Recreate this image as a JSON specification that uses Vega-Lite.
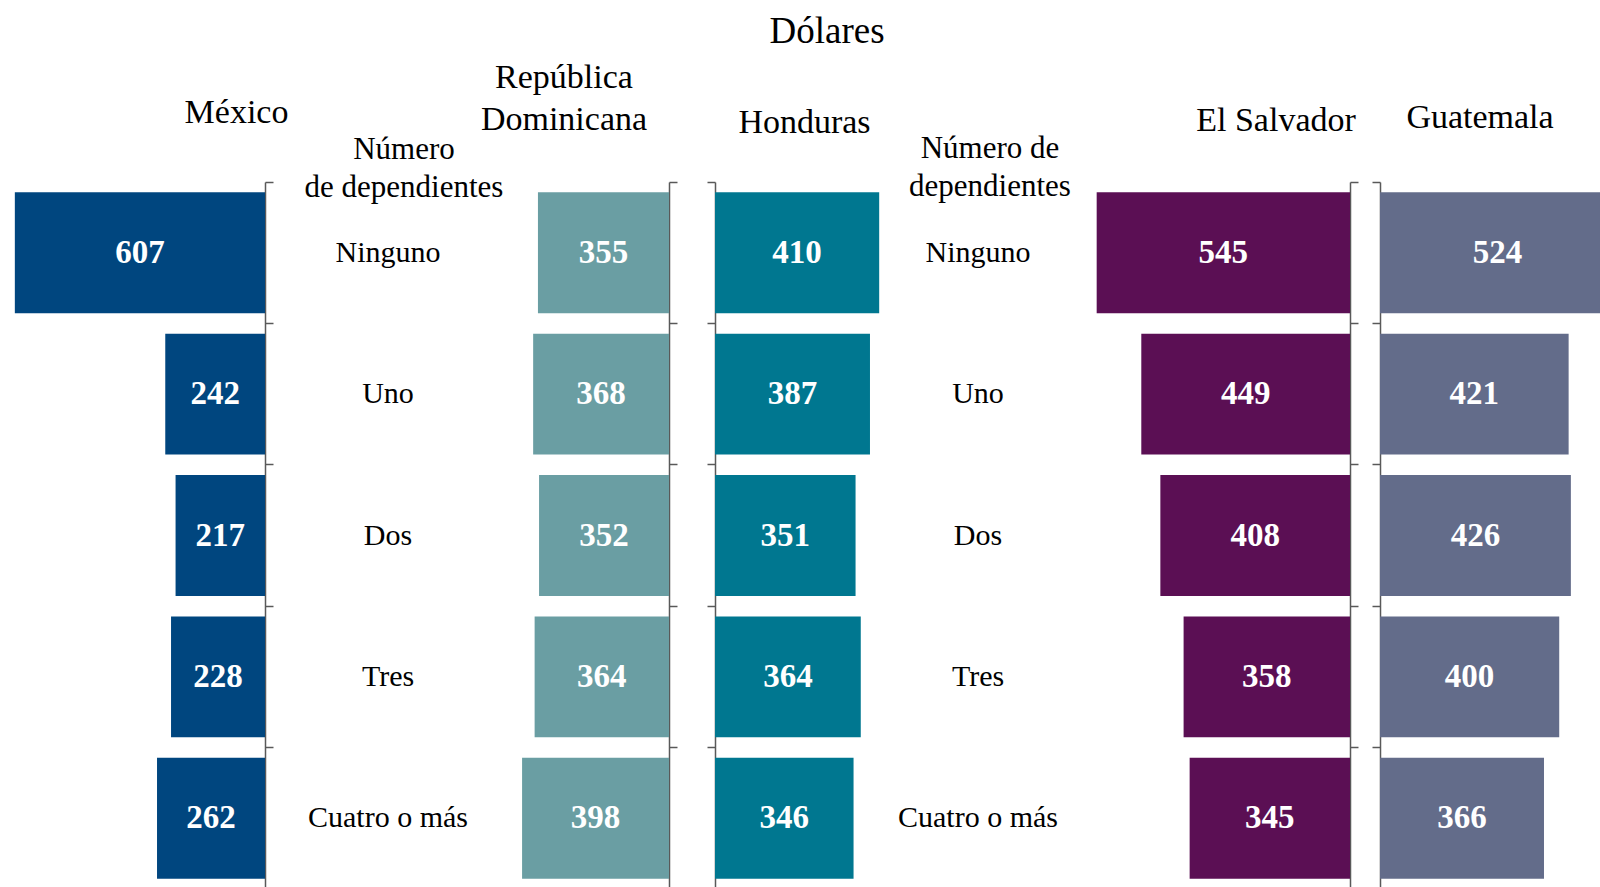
{
  "$schema": "https://vega.github.io/schema/vega-lite/v6.json",
  "background": "white",
  "padding": {"left": 0, "right": 0, "top": 13, "bottom": 0},
  "config": {
    "view": {"stroke": null},
    "font": "Liberation Serif",
    "title": {"font": "Liberation Serif", "fontWeight": "normal", "color": "black", "anchor": "middle", "frame": "group"},
    "axis": {"domainColor": "#595959", "tickColor": "#595959", "domainWidth": 1.5, "tickWidth": 1.5, "tickSize": 8, "labels": false, "title": null, "grid": false, "bandPosition": 0}
  },
  "title": {"text": "Dólares", "anchor": "middle", "frame": "bounds", "dx": 27, "fontSize": 37, "offset": 10},
  "datasets": {
    "d": [
      {"pais": "MX", "cat": "Ninguno", "v": 607},
      {"pais": "MX", "cat": "Uno", "v": 242},
      {"pais": "MX", "cat": "Dos", "v": 217},
      {"pais": "MX", "cat": "Tres", "v": 228},
      {"pais": "MX", "cat": "Cuatro o más", "v": 262},
      {"pais": "RD", "cat": "Ninguno", "v": 355},
      {"pais": "RD", "cat": "Uno", "v": 368},
      {"pais": "RD", "cat": "Dos", "v": 352},
      {"pais": "RD", "cat": "Tres", "v": 364},
      {"pais": "RD", "cat": "Cuatro o más", "v": 398},
      {"pais": "HN", "cat": "Ninguno", "v": 410},
      {"pais": "HN", "cat": "Uno", "v": 387},
      {"pais": "HN", "cat": "Dos", "v": 351},
      {"pais": "HN", "cat": "Tres", "v": 364},
      {"pais": "HN", "cat": "Cuatro o más", "v": 346},
      {"pais": "SV", "cat": "Ninguno", "v": 545},
      {"pais": "SV", "cat": "Uno", "v": 449},
      {"pais": "SV", "cat": "Dos", "v": 408},
      {"pais": "SV", "cat": "Tres", "v": 358},
      {"pais": "SV", "cat": "Cuatro o más", "v": 345},
      {"pais": "GT", "cat": "Ninguno", "v": 524},
      {"pais": "GT", "cat": "Uno", "v": 421},
      {"pais": "GT", "cat": "Dos", "v": 426},
      {"pais": "GT", "cat": "Tres", "v": 400},
      {"pais": "GT", "cat": "Cuatro o más", "v": 366}
    ]
  },
  "spacing": 0,
  "bounds": "flush",
  "hconcat": [
    {
      "width": 265, "height": 707,
      "data": {"name": "d"},
      "transform": [{"filter": "datum.pais === 'MX'"}],
      "title": {"text": "México", "dx": 104, "offset": 51, "fontSize": 34},
      "encoding": {
        "y": {"field": "cat", "type": "nominal", "sort": ["Ninguno", "Uno", "Dos", "Tres", "Cuatro o más"], "scale": {"paddingInner": 0, "paddingOuter": 0}, "axis": {"orient": "right"}},
        "x": {"field": "v", "type": "quantitative", "stack": "zero", "scale": {"domain": [0, 643], "reverse": true}, "axis": null}
      },
      "layer": [
        {"mark": {"type": "bar", "height": {"band": 0.855}, "color": "#00467F"}},
        {"mark": {"type": "text", "color": "white", "fontWeight": "bold", "fontSize": 33, "baseline": "middle"},
         "encoding": {"text": {"field": "v"}, "x": {"field": "v", "type": "quantitative", "stack": "zero", "bandPosition": 0.5}}}
      ]
    },
    {
      "width": 246, "height": 707,
      "data": {"name": "d"},
      "transform": [{"filter": "datum.pais === 'MX'"}],
      "title": {"text": ["Número", "de dependientes"], "dx": 16, "offset": -22, "fontSize": 31, "lineHeight": 38},
      "mark": {"type": "text", "fontSize": 30, "baseline": "middle", "color": "black"},
      "encoding": {
        "y": {"field": "cat", "type": "nominal", "sort": ["Ninguno", "Uno", "Dos", "Tres", "Cuatro o más"], "scale": {"paddingInner": 0, "paddingOuter": 0}, "axis": null},
        "text": {"field": "cat"}
      }
    },
    {
      "width": 158, "height": 707,
      "data": {"name": "d"},
      "transform": [{"filter": "datum.pais === 'RD'"}],
      "title": {"text": ["República", "Dominicana"], "dx": -26, "offset": 44, "fontSize": 34, "lineHeight": 42},
      "encoding": {
        "y": {"field": "cat", "type": "nominal", "sort": ["Ninguno", "Uno", "Dos", "Tres", "Cuatro o más"], "scale": {"paddingInner": 0, "paddingOuter": 0}, "axis": {"orient": "right"}},
        "x": {"field": "v", "type": "quantitative", "stack": "zero", "scale": {"domain": [0, 428], "reverse": true}, "axis": null}
      },
      "layer": [
        {"mark": {"type": "bar", "height": {"band": 0.855}, "color": "#6A9EA3"}},
        {"mark": {"type": "text", "color": "white", "fontWeight": "bold", "fontSize": 33, "baseline": "middle"},
         "encoding": {"text": {"field": "v"}, "x": {"field": "v", "type": "quantitative", "stack": "zero", "bandPosition": 0.5}}}
      ]
    },
    {
      "width": 46, "height": 707,
      "data": {"values": [{"a": 1}]},
      "mark": {"type": "text"},
      "encoding": {"text": {"value": ""}}
    },
    {
      "width": 175, "height": 707,
      "data": {"name": "d"},
      "transform": [{"filter": "datum.pais === 'HN'"}],
      "title": {"text": "Honduras", "dx": 2, "offset": 41, "fontSize": 34},
      "encoding": {
        "y": {"field": "cat", "type": "nominal", "sort": ["Ninguno", "Uno", "Dos", "Tres", "Cuatro o más"], "scale": {"paddingInner": 0, "paddingOuter": 0}, "axis": {"orient": "left"}},
        "x": {"field": "v", "type": "quantitative", "stack": "zero", "scale": {"domain": [0, 437]}, "axis": null}
      },
      "layer": [
        {"mark": {"type": "bar", "height": {"band": 0.855}, "color": "#007790"}},
        {"mark": {"type": "text", "color": "white", "fontWeight": "bold", "fontSize": 33, "baseline": "middle"},
         "encoding": {"text": {"field": "v"}, "x": {"field": "v", "type": "quantitative", "stack": "zero", "bandPosition": 0.5}}}
      ]
    },
    {
      "width": 176, "height": 707,
      "data": {"name": "d"},
      "transform": [{"filter": "datum.pais === 'HN'"}],
      "title": {"text": ["Número de", "dependientes"], "dx": 12, "offset": -21, "fontSize": 31, "lineHeight": 38},
      "mark": {"type": "text", "fontSize": 30, "baseline": "middle", "color": "black"},
      "encoding": {
        "y": {"field": "cat", "type": "nominal", "sort": ["Ninguno", "Uno", "Dos", "Tres", "Cuatro o más"], "scale": {"paddingInner": 0, "paddingOuter": 0}, "axis": null},
        "text": {"field": "cat"}
      }
    },
    {
      "width": 284, "height": 707,
      "data": {"name": "d"},
      "transform": [{"filter": "datum.pais === 'SV'"}],
      "title": {"text": "El Salvador", "dx": 68, "offset": 43, "fontSize": 34},
      "encoding": {
        "y": {"field": "cat", "type": "nominal", "sort": ["Ninguno", "Uno", "Dos", "Tres", "Cuatro o más"], "scale": {"paddingInner": 0, "paddingOuter": 0}, "axis": {"orient": "right"}},
        "x": {"field": "v", "type": "quantitative", "stack": "zero", "scale": {"domain": [0, 611], "reverse": true}, "axis": null}
      },
      "layer": [
        {"mark": {"type": "bar", "height": {"band": 0.855}, "color": "#5B0F54"}},
        {"mark": {"type": "text", "color": "white", "fontWeight": "bold", "fontSize": 33, "baseline": "middle"},
         "encoding": {"text": {"field": "v"}, "x": {"field": "v", "type": "quantitative", "stack": "zero", "bandPosition": 0.5}}}
      ]
    },
    {
      "width": 30, "height": 707,
      "data": {"values": [{"a": 1}]},
      "mark": {"type": "text"},
      "encoding": {"text": {"value": ""}}
    },
    {
      "width": 220, "height": 707,
      "data": {"name": "d"},
      "transform": [{"filter": "datum.pais === 'GT'"}],
      "title": {"text": "Guatemala", "dx": -10, "offset": 46, "fontSize": 34},
      "encoding": {
        "y": {"field": "cat", "type": "nominal", "sort": ["Ninguno", "Uno", "Dos", "Tres", "Cuatro o más"], "scale": {"paddingInner": 0, "paddingOuter": 0}, "axis": {"orient": "left"}},
        "x": {"field": "v", "type": "quantitative", "stack": "zero", "scale": {"domain": [0, 491]}, "axis": null}
      },
      "layer": [
        {"mark": {"type": "bar", "height": {"band": 0.855}, "color": "#636C8A", "clip": true}},
        {"mark": {"type": "text", "color": "white", "fontWeight": "bold", "fontSize": 33, "baseline": "middle"},
         "encoding": {"text": {"field": "v"}, "x": {"field": "v", "type": "quantitative", "stack": "zero", "bandPosition": 0.5}}}
      ]
    }
  ]
}
